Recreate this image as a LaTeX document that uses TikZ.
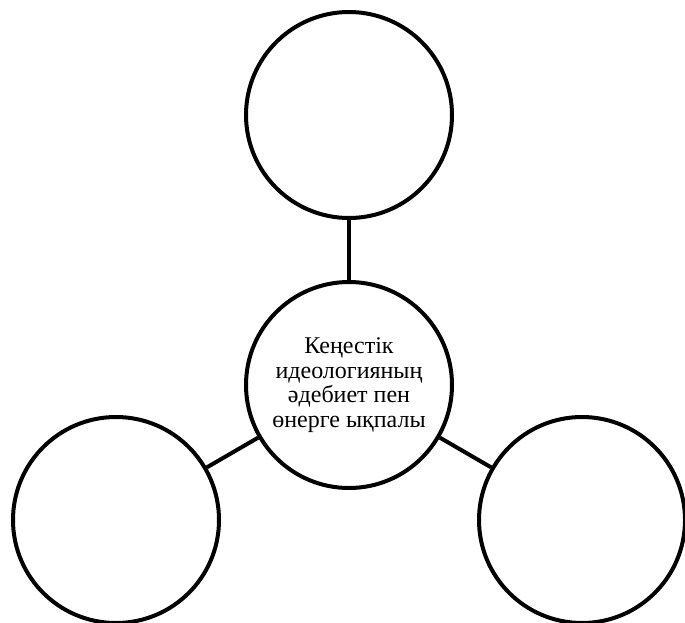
\documentclass[tikz,border=0pt]{standalone}
\usepackage{fontspec}
\setmainfont{Liberation Serif}
\begin{document}
\begin{tikzpicture}[x=1pt,y=-1pt,
  ring/.style={circle,draw=black,line width=4pt,minimum size=206pt,inner sep=0pt,fill=white},
  link/.style={line width=4pt,draw=black}]
\useasboundingbox (0,0) rectangle (685,622);
\node[ring,minimum size=206pt] (top) at (349,115) {};
\node[ring,minimum size=206pt,align=center,font=\fontsize{24}{24.5}\selectfont] (mid) at (349,385) {Кеңестік\\идеологияның\\әдебиет пен\\өнерге ықпалы};
\node[ring] (left) at (116,520) {};
\node[ring] (right) at (582,520) {};
\draw[link] (top) -- (mid);
\draw[link] (left) -- (mid);
\draw[link] (right) -- (mid);
\end{tikzpicture}
\end{document}
